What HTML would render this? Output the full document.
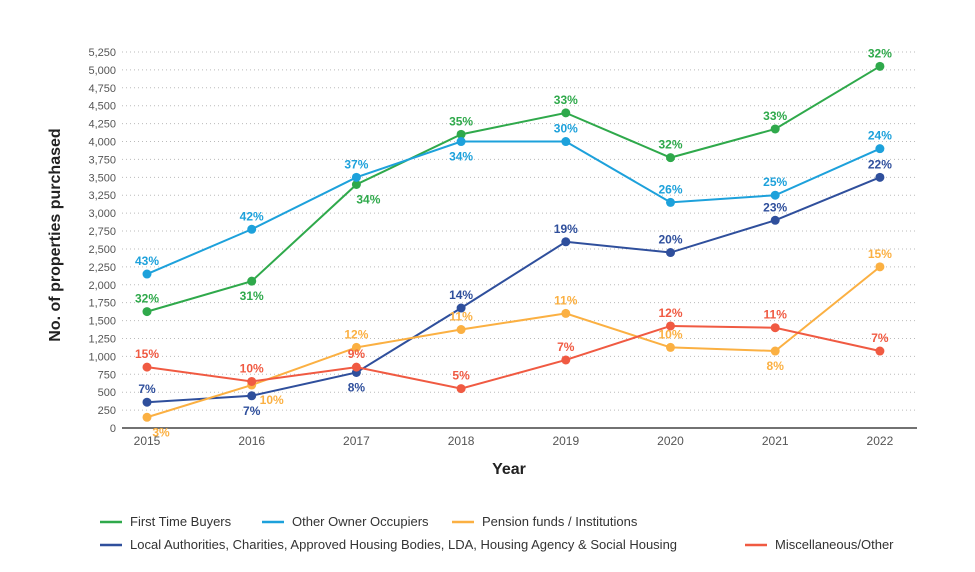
<!DOCTYPE html>
<html><head><meta charset="utf-8"><style>
body{margin:0;background:#fff;font-family:"Liberation Sans",sans-serif}
svg text{font-family:"Liberation Sans",sans-serif}
</style></head><body>
<svg id="chart" width="975" height="567" viewBox="0 0 975 567" xmlns="http://www.w3.org/2000/svg">
<g id="grid"></g>
<g id="yticks"></g>
<g id="xticks"></g>
<line x1="122" y1="428" x2="917" y2="428" stroke="#444" stroke-width="1.5"/>
<text x="509" y="474" text-anchor="middle" font-size="16" font-weight="bold" fill="#222">Year</text>
<text transform="translate(60,235) rotate(-90)" text-anchor="middle" font-size="16" font-weight="bold" fill="#222">No. of properties purchased</text>
<g id="series"></g>
<g id="legend"></g>
</svg>
<script>
const years = ['2015','2016','2017','2018','2019','2020','2021','2022'];
const yTicks = [0,250,500,750,1000,1250,1500,1750,2000,2250,2500,2750,3000,3250,3500,3750,4000,4250,4500,4750,5000,5250];
const firstTime = [1625,2050,3400,4100,4400,3775,4175,5050];
const firstTimeLbl = ['32%','31%','34%','35%','33%','32%','33%','32%'];
const otherOwner = [2150,2775,3500,4000,4000,3150,3250,3900];
const otherOwnerLbl = ['43%','42%','37%','34%','30%','26%','25%','24%'];
const localAuth = [360,450,775,1675,2600,2450,2900,3500];
const localAuthLbl = ['7%','7%','8%','14%','19%','20%','23%','22%'];
const pension = [150,600,1125,1375,1600,1125,1075,2250];
const pensionLbl = ['3%','10%','12%','11%','11%','10%','8%','15%'];
const misc = [850,650,850,550,950,1425,1400,1075];
const miscLbl = ['15%','10%','9%','5%','7%','12%','11%','7%'];

const NS='http://www.w3.org/2000/svg';
const x0=147, xStep=104.7, yBase=428, yTop=52, yMax=5250;
function xs(i){return x0+i*xStep;}
function ys(v){return yBase-(v/yMax)*(yBase-yTop);}
function mk(tag,attrs,parent){const e=document.createElementNS(NS,tag);for(const k in attrs)e.setAttribute(k,attrs[k]);parent.appendChild(e);return e;}

const grid=document.getElementById('grid'), yt=document.getElementById('yticks'), xt=document.getElementById('xticks');
yTicks.forEach(v=>{
  if(v>0){const l=mk('line',{x1:122,x2:917,y1:ys(v),y2:ys(v),stroke:'#bbb','stroke-width':1,'stroke-dasharray':'1 3'},grid);
  
  }
  const t=mk('text',{x:116,y:ys(v)+4,'text-anchor':'end','font-size':11,fill:'#555'},yt);
  
  
  t.textContent=v.toLocaleString('en-US');
});
years.forEach((y,i)=>{
  const t=mk('text',{x:xs(i),y:445,'text-anchor':'middle','font-size':12,fill:'#555'},xt);
  
  
  t.textContent=y;
});

const seriesDefs=[
 {name:'first-time-buyers',vals:firstTime,lbl:firstTimeLbl,color:'#2fa94b',pos:[-1,1,1,-1,-1,-1,-1,-1],dx:[0,0,12,0,0,0,0,0]},
 {name:'other-owner-occupiers',vals:otherOwner,lbl:otherOwnerLbl,color:'#1da1db',pos:[-1,-1,-1,1,-1,-1,-1,-1],dx:[0,0,0,0,0,0,0,0]},
 {name:'local-authorities',vals:localAuth,lbl:localAuthLbl,color:'#2f4f9c',pos:[-1,1,1,-1,-1,-1,-1,-1],dx:[0,0,0,0,0,0,0,0]},
 {name:'pension-funds',vals:pension,lbl:pensionLbl,color:'#fbb042',pos:[1,1,-1,-1,-1,-1,1,-1],dx:[14,20,0,0,0,0,0,0]},
 {name:'miscellaneous',vals:misc,lbl:miscLbl,color:'#f05a42',pos:[-1,-1,-1,-1,-1,-1,-1,-1],dx:[0,0,0,0,0,0,0,0]}
];
const sg=document.getElementById('series');
seriesDefs.forEach(s=>{
  const g=mk('g',{},sg);
  
  
  const p=mk('polyline',{points:s.vals.map((v,i)=>xs(i)+','+ys(v)).join(' '),fill:'none',stroke:s.color,'stroke-width':2},g);
  
  
  s.vals.forEach((v,i)=>{
    const c=mk('circle',{cx:xs(i),cy:ys(v),r:4.5,fill:s.color},g);
    
    
    const t=mk('text',{x:xs(i)+s.dx[i],y:ys(v)+(s.pos[i]<0?-9:19),'text-anchor':'middle','font-size':12,'font-weight':'bold',fill:s.color},g);
    
    
    t.textContent=s.lbl[i];
  });
});

const legendItems=[
 {t:'First Time Buyers',c:'#2fa94b',x:100,y:522},
 {t:'Other Owner Occupiers',c:'#1da1db',x:262,y:522},
 {t:'Pension funds / Institutions',c:'#fbb042',x:452,y:522},
 {t:'Local Authorities, Charities, Approved Housing Bodies, LDA, Housing Agency & Social Housing',c:'#2f4f9c',x:100,y:545},
 {t:'Miscellaneous/Other',c:'#f05a42',x:745,y:545}
];
const lg=document.getElementById('legend');
legendItems.forEach(it=>{
  const g=mk('g',{},lg);
  
  
  mk('line',{x1:it.x,x2:it.x+22,y1:it.y,y2:it.y,stroke:it.c,'stroke-width':2.5},g);
  const t=mk('text',{x:it.x+30,y:it.y+4,'font-size':13,fill:'#333'},g);
  t.textContent=it.t;
});
</script>
</body></html>
